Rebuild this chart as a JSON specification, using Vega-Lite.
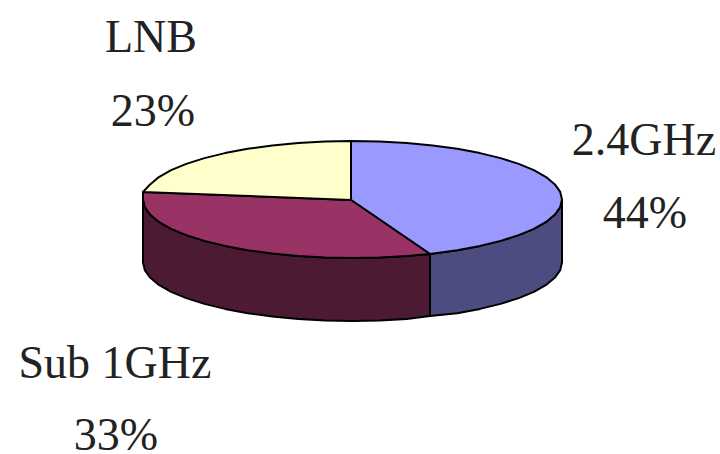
{"$schema":"https://vega.github.io/schema/vega-lite/v6.json","width":720,"height":454,"padding":0,"autosize":{"type":"none"},"background":"white","view":{"stroke":null},"layer":[{"data":{"values":[
{"part":"2.4GHz side","i":0,"x":562,"y":199.5},{"part":"2.4GHz side","i":1,"x":560.2,"y":207.1},{"part":"2.4GHz side","i":2,"x":554.9,"y":214.6},{"part":"2.4GHz side","i":3,"x":546.1,"y":221.9},{"part":"2.4GHz side","i":4,"x":533.9,"y":228.8},{"part":"2.4GHz side","i":5,"x":518.7,"y":235.1},{"part":"2.4GHz side","i":6,"x":500.6,"y":240.9},{"part":"2.4GHz side","i":7,"x":480,"y":245.9},{"part":"2.4GHz side","i":8,"x":457.3,"y":250.2},{"part":"2.4GHz side","i":9,"x":430,"y":254},{"part":"2.4GHz side","i":10,"x":430,"y":316},{"part":"2.4GHz side","i":11,"x":457.3,"y":313.2},{"part":"2.4GHz side","i":12,"x":480,"y":308.9},{"part":"2.4GHz side","i":13,"x":500.6,"y":303.9},{"part":"2.4GHz side","i":14,"x":518.7,"y":298.1},{"part":"2.4GHz side","i":15,"x":533.9,"y":291.8},{"part":"2.4GHz side","i":16,"x":546.1,"y":284.9},{"part":"2.4GHz side","i":17,"x":554.9,"y":277.6},{"part":"2.4GHz side","i":18,"x":560.2,"y":270.1},{"part":"2.4GHz side","i":19,"x":562,"y":262.5},{"part":"2.4GHz side","i":20,"x":562,"y":199.5},
{"part":"Sub 1GHz side","i":0,"x":430,"y":254},{"part":"Sub 1GHz side","i":1,"x":406.7,"y":256},{"part":"Sub 1GHz side","i":2,"x":379.8,"y":257.5},{"part":"Sub 1GHz side","i":3,"x":352.5,"y":258},{"part":"Sub 1GHz side","i":4,"x":325.2,"y":257.5},{"part":"Sub 1GHz side","i":5,"x":298.3,"y":256},{"part":"Sub 1GHz side","i":6,"x":272.3,"y":253.5},{"part":"Sub 1GHz side","i":7,"x":247.7,"y":250.2},{"part":"Sub 1GHz side","i":8,"x":225,"y":245.9},{"part":"Sub 1GHz side","i":9,"x":204.4,"y":240.9},{"part":"Sub 1GHz side","i":10,"x":186.3,"y":235.1},{"part":"Sub 1GHz side","i":11,"x":171.1,"y":228.8},{"part":"Sub 1GHz side","i":12,"x":158.9,"y":221.9},{"part":"Sub 1GHz side","i":13,"x":150.1,"y":214.6},{"part":"Sub 1GHz side","i":14,"x":144.8,"y":207.1},{"part":"Sub 1GHz side","i":15,"x":143,"y":199.5},{"part":"Sub 1GHz side","i":16,"x":143,"y":262.5},{"part":"Sub 1GHz side","i":17,"x":144.8,"y":270.1},{"part":"Sub 1GHz side","i":18,"x":150.1,"y":277.6},{"part":"Sub 1GHz side","i":19,"x":158.9,"y":284.9},{"part":"Sub 1GHz side","i":20,"x":171.1,"y":291.8},{"part":"Sub 1GHz side","i":21,"x":186.3,"y":298.1},{"part":"Sub 1GHz side","i":22,"x":204.4,"y":303.9},{"part":"Sub 1GHz side","i":23,"x":225,"y":308.9},{"part":"Sub 1GHz side","i":24,"x":247.7,"y":313.2},{"part":"Sub 1GHz side","i":25,"x":272.3,"y":316.5},{"part":"Sub 1GHz side","i":26,"x":298.3,"y":319},{"part":"Sub 1GHz side","i":27,"x":325.2,"y":320.5},{"part":"Sub 1GHz side","i":28,"x":352.5,"y":321},{"part":"Sub 1GHz side","i":29,"x":379.8,"y":320.5},{"part":"Sub 1GHz side","i":30,"x":406.7,"y":319},{"part":"Sub 1GHz side","i":31,"x":430,"y":316},{"part":"Sub 1GHz side","i":32,"x":430,"y":254},
{"part":"2.4GHz","i":0,"x":351,"y":200},{"part":"2.4GHz","i":1,"x":351,"y":141},{"part":"2.4GHz","i":2,"x":379.8,"y":141.5},{"part":"2.4GHz","i":3,"x":406.7,"y":143},{"part":"2.4GHz","i":4,"x":432.7,"y":145.5},{"part":"2.4GHz","i":5,"x":457.3,"y":148.8},{"part":"2.4GHz","i":6,"x":480,"y":153.1},{"part":"2.4GHz","i":7,"x":500.6,"y":158.1},{"part":"2.4GHz","i":8,"x":518.7,"y":163.9},{"part":"2.4GHz","i":9,"x":533.9,"y":170.2},{"part":"2.4GHz","i":10,"x":546.1,"y":177.1},{"part":"2.4GHz","i":11,"x":554.9,"y":184.4},{"part":"2.4GHz","i":12,"x":560.2,"y":191.9},{"part":"2.4GHz","i":13,"x":562,"y":199.5},{"part":"2.4GHz","i":14,"x":560.2,"y":207.1},{"part":"2.4GHz","i":15,"x":554.9,"y":214.6},{"part":"2.4GHz","i":16,"x":546.1,"y":221.9},{"part":"2.4GHz","i":17,"x":533.9,"y":228.8},{"part":"2.4GHz","i":18,"x":518.7,"y":235.1},{"part":"2.4GHz","i":19,"x":500.6,"y":240.9},{"part":"2.4GHz","i":20,"x":480,"y":245.9},{"part":"2.4GHz","i":21,"x":457.3,"y":250.2},{"part":"2.4GHz","i":22,"x":430,"y":254},{"part":"2.4GHz","i":23,"x":351,"y":200},
{"part":"Sub 1GHz","i":0,"x":351,"y":200},{"part":"Sub 1GHz","i":1,"x":430,"y":254},{"part":"Sub 1GHz","i":2,"x":406.7,"y":256},{"part":"Sub 1GHz","i":3,"x":379.8,"y":257.5},{"part":"Sub 1GHz","i":4,"x":352.5,"y":258},{"part":"Sub 1GHz","i":5,"x":325.2,"y":257.5},{"part":"Sub 1GHz","i":6,"x":298.3,"y":256},{"part":"Sub 1GHz","i":7,"x":272.3,"y":253.5},{"part":"Sub 1GHz","i":8,"x":247.7,"y":250.2},{"part":"Sub 1GHz","i":9,"x":225,"y":245.9},{"part":"Sub 1GHz","i":10,"x":204.4,"y":240.9},{"part":"Sub 1GHz","i":11,"x":186.3,"y":235.1},{"part":"Sub 1GHz","i":12,"x":171.1,"y":228.8},{"part":"Sub 1GHz","i":13,"x":158.9,"y":221.9},{"part":"Sub 1GHz","i":14,"x":150.1,"y":214.6},{"part":"Sub 1GHz","i":15,"x":144.8,"y":207.1},{"part":"Sub 1GHz","i":16,"x":143,"y":199.5},{"part":"Sub 1GHz","i":17,"x":143,"y":192},{"part":"Sub 1GHz","i":18,"x":351,"y":200},
{"part":"LNB","i":0,"x":351,"y":200},{"part":"LNB","i":1,"x":143,"y":192},{"part":"LNB","i":2,"x":150.1,"y":184.4},{"part":"LNB","i":3,"x":158.9,"y":177.1},{"part":"LNB","i":4,"x":171.1,"y":170.2},{"part":"LNB","i":5,"x":186.3,"y":163.9},{"part":"LNB","i":6,"x":204.4,"y":158.1},{"part":"LNB","i":7,"x":225,"y":153.1},{"part":"LNB","i":8,"x":247.7,"y":148.8},{"part":"LNB","i":9,"x":272.3,"y":145.5},{"part":"LNB","i":10,"x":298.3,"y":143},{"part":"LNB","i":11,"x":325.2,"y":141.5},{"part":"LNB","i":12,"x":351,"y":141},{"part":"LNB","i":13,"x":351,"y":200}
]},"mark":{"type":"line","stroke":"#000000","strokeWidth":2,"strokeJoin":"round","interpolate":"linear"},"encoding":{"x":{"field":"x","type":"quantitative","scale":{"domain":[0,720]},"axis":null},"y":{"field":"y","type":"quantitative","scale":{"domain":[454,0]},"axis":null},"order":{"field":"i","type":"quantitative"},"detail":{"field":"part"},"fill":{"field":"part","type":"nominal","legend":null,"scale":{"domain":["2.4GHz","Sub 1GHz","LNB","2.4GHz side","Sub 1GHz side"],"range":["#9999ff","#993366","#ffffcc","#4c4c80","#4c1a33"]}}}},
{"data":{"values":[{"t":"LNB","x":151,"y":52},{"t":"23%","x":153,"y":126},{"t":"2.4GHz","x":644,"y":155},{"t":"44%","x":645,"y":228},{"t":"Sub 1GHz","x":115,"y":378},{"t":"33%","x":116,"y":450}]},"mark":{"type":"text","font":"Liberation Serif","fontSize":46,"align":"center","baseline":"alphabetic","color":"#222222"},"encoding":{"x":{"field":"x","type":"quantitative","scale":{"domain":[0,720]},"axis":null},"y":{"field":"y","type":"quantitative","scale":{"domain":[454,0]},"axis":null},"text":{"field":"t"}}}]}
